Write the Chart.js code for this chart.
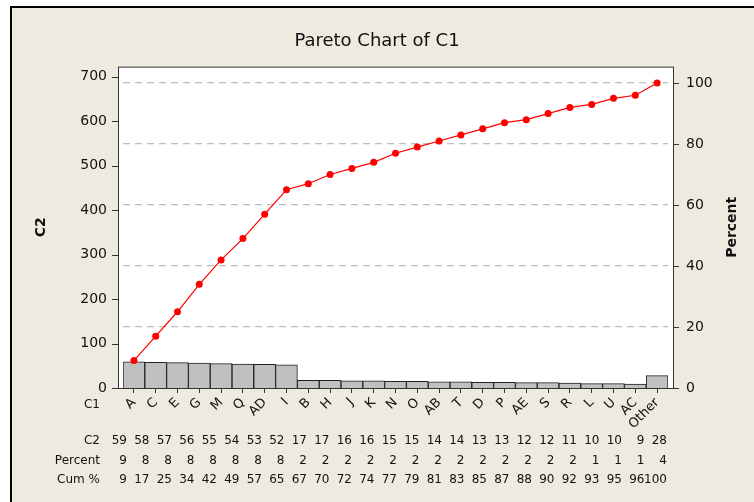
<!DOCTYPE html>
<html lang="en">
<head>
  <meta charset="UTF-8">
  <title>Pareto Chart of C1</title>
  <script src="https://cdn.jsdelivr.net/npm/chart.js"></script>
  <style>
    body {
      margin: 0;
      background: #ffffff;
    }
    #wrap {
      width: 754px;
      height: 502px;
    }
  </style>
</head>
<body>
  <div id="wrap">
    <canvas id="pareto" width="754" height="502"></canvas>
  </div>

  <script>
    // data
    const categories = ['A', 'C', 'E', 'G', 'M', 'Q', 'AD', 'I', 'B', 'H', 'J', 'K', 'N',
      'O', 'AB', 'T', 'D', 'P', 'AE', 'S', 'R', 'L', 'U', 'AC', 'Other'];
    const counts = [59, 58, 57, 56, 55, 54, 53, 52, 17, 17, 16, 16, 15, 15, 14, 14, 13, 13,
      12, 12, 11, 10, 10, 9, 28];
    const percents = [9, 8, 8, 8, 8, 8, 8, 8, 2, 2, 2, 2, 2, 2, 2, 2, 2, 2, 2, 2, 2, 1, 1, 1, 4];
    const cumPercents = [9, 17, 25, 34, 42, 49, 57, 65, 67, 70, 72, 74, 77, 79, 81, 83, 85,
      87, 88, 90, 92, 93, 95, 96, 100];
    const countTicks = [0, 100, 200, 300, 400, 500, 600, 700];
    const percentTicks = [0, 20, 40, 60, 80, 100];

    const FONT = "'DejaVu Sans', sans-serif";
    const BEIGE = '#eeeae0';

    // frame, backgrounds, table and axis titles
    const paretoDecor = {
      id: 'paretoDecor',
      beforeDraw(chart) {
        const ctx = chart.ctx;
        const a = chart.chartArea;
        ctx.save();
        ctx.fillStyle = '#ffffff';
        ctx.fillRect(0, 0, chart.width, chart.height);
        ctx.fillStyle = BEIGE;
        ctx.fillRect(11, 7, chart.width, chart.height);
        ctx.strokeStyle = '#000';
        ctx.lineWidth = 2;
        ctx.beginPath();
        ctx.moveTo(11, chart.height);
        ctx.lineTo(11, 7);
        ctx.lineTo(chart.width, 7);
        ctx.stroke();
        // plot area
        ctx.fillStyle = '#ffffff';
        ctx.fillRect(a.left - 5, a.top, a.right - a.left + 10, a.bottom - a.top);
        ctx.restore();
      },
      afterDraw(chart) {
        const ctx = chart.ctx;
        const a = chart.chartArea;
        const yL = chart.scales.y;
        const yR = chart.scales.yPct;
        const L = a.left - 5, R = a.right + 5;
        ctx.save();
        ctx.strokeStyle = '#333';
        ctx.lineWidth = 1;
        ctx.strokeRect(L + 0.5, a.top + 0.5, R - L, a.bottom - a.top);
        ctx.beginPath();
        countTicks.forEach(v => {
          const y = Math.round(yL.getPixelForValue(v)) + 0.5;
          ctx.moveTo(L - 6, y);
          ctx.lineTo(L, y);
        });
        percentTicks.forEach(v => {
          const y = Math.round(yR.getPixelForValue(v)) + 0.5;
          ctx.moveTo(R, y);
          ctx.lineTo(R + 6, y);
        });
        ctx.stroke();

        ctx.fillStyle = '#111';
        ctx.textBaseline = 'middle';

        // axis titles
        ctx.font = 'bold 14px ' + FONT;
        ctx.textAlign = 'center';
        const midY = (a.top + a.bottom) / 2;
        ctx.save();
        ctx.translate(41, midY);
        ctx.rotate(-Math.PI / 2);
        ctx.fillText('C2', 0, 0);
        ctx.restore();
        ctx.save();
        ctx.translate(732, midY);
        ctx.rotate(-Math.PI / 2);
        ctx.fillText('Percent', 0, 0);
        ctx.restore();

        // table under the chart
        ctx.font = '12px ' + FONT;
        ctx.textAlign = 'right';
        ctx.fillText('C1', 100, 405);
        const rows = [['C2', counts, 441], ['Percent', percents, 461], ['Cum %', cumPercents, 480]];
        rows.forEach(([label, vals, y]) => {
          ctx.fillText(label, 100, y);
          vals.forEach((v, i) => ctx.fillText(String(v), 127 + i * 22.5, y));
        });
        ctx.restore();
      }
    };

    new Chart(document.getElementById('pareto'), {
      data: {
        labels: categories,
        datasets: [
          {
            type: 'line',
            label: 'Cum %',
            data: cumPercents,
            yAxisID: 'yPct',
            borderColor: '#ff0000',
            backgroundColor: '#ff0000',
            borderWidth: 1.2,
            pointRadius: 3.5,
            pointBorderWidth: 0,
            tension: 0,
            order: 0
          },
          {
            type: 'bar',
            label: 'C2',
            data: counts,
            yAxisID: 'y',
            backgroundColor: '#c0c0c0',
            borderColor: '#222',
            borderWidth: 1,
            categoryPercentage: 1,
            barPercentage: 1,
            order: 1
          }
        ]
      },
      options: {
        responsive: false,
        animation: false,
        layout: { padding: 0 },
        plugins: {
          legend: { display: false },
          tooltip: { enabled: false },
          title: {
            display: true,
            text: 'Pareto Chart of C1',
            color: '#111',
            font: { family: FONT, size: 18, weight: 'normal' },
            padding: { top: 31, bottom: 14 }
          }
        },
        scales: {
          x: {
            offset: true,
            border: { display: false },
            grid: {
              offset: false,
              drawOnChartArea: false,
              drawTicks: true,
              tickLength: 5,
              color: '#333'
            },
            ticks: {
              autoSkip: false,
              maxRotation: 45,
              minRotation: 45,
              padding: 2,
              color: '#111',
              font: { family: FONT, size: 13 }
            },
            afterFit(scale) { scale.height = 114; }
          },
          y: {
            position: 'left',
            min: 0,
            max: 723,
            border: { display: false },
            grid: { display: false },
            afterBuildTicks(scale) { scale.ticks = countTicks.map(v => ({ value: v })); },
            ticks: {
              padding: 8,
              color: '#111',
              font: { family: FONT, size: 14 }
            },
            afterFit(scale) { scale.width = 123; }
          },
          yPct: {
            position: 'right',
            min: 0,
            max: 105.4,
            border: { display: false, dash: [7, 5] },
            grid: {
              drawOnChartArea: true,
              drawTicks: false,
              color: ctx => ctx.tick && ctx.tick.value > 0 ? '#bdbdbd' : 'rgba(0,0,0,0)',
              lineWidth: 1.2
            },
            afterBuildTicks(scale) { scale.ticks = percentTicks.map(v => ({ value: v })); },
            ticks: {
              padding: 18,
              color: '#111',
              font: { family: FONT, size: 14 }
            },
            afterFit(scale) { scale.width = 86; }
          }
        }
      },
      plugins: [paretoDecor]
    });
  </script>
</body>
</html>
